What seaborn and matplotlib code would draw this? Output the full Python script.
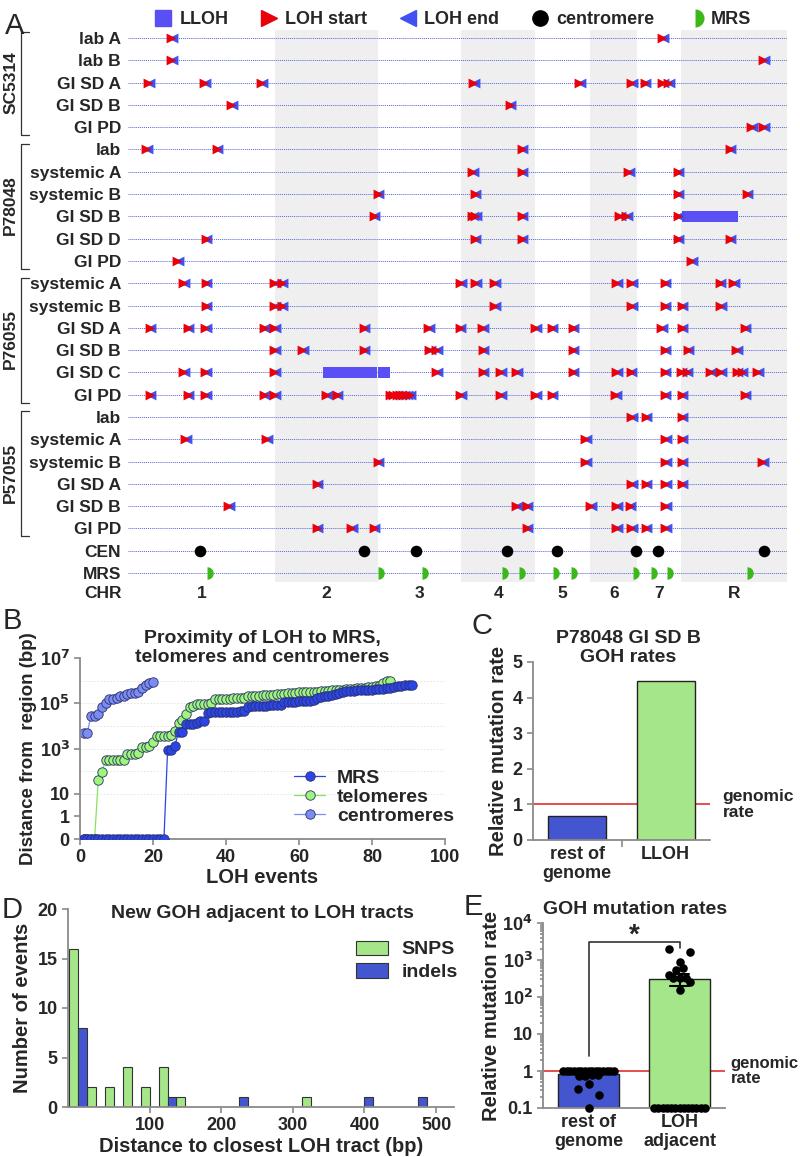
import numpy as np
import pandas as pd
import seaborn as sns
import matplotlib.pyplot as plt
from matplotlib.lines import Line2D
from matplotlib.ticker import LogLocator, NullFormatter

# ---------------- data ----------------
# chromosome sizes (Mb)
chr_names = ['1', '2', '3', '4', '5', '6', '7', 'R']
chr_sizes = [3.19, 2.23, 1.80, 1.60, 1.19, 1.03, 0.95, 2.29]

row_labels = ['lab A', 'lab B', 'GI SD A', 'GI SD B', 'GI PD',
              'lab', 'systemic A', 'systemic B', 'GI SD B', 'GI SD D', 'GI PD',
              'systemic A', 'systemic B', 'GI SD A', 'GI SD B', 'GI SD C', 'GI PD',
              'lab', 'systemic A', 'systemic B', 'GI SD A', 'GI SD B', 'GI PD',
              'CEN', 'MRS']
groups = [('SC5314', 0, 4), ('P78048', 5, 10), ('P76055', 11, 16), ('P57055', 17, 22)]

# LOH event positions (Mb along concatenated genome), one list per isolate row
loh_events = [
    [0.93, 11.58],
    [0.93, 13.76],
    [0.44, 1.65, 2.88, 7.48, 9.78, 10.91, 11.20, 11.58, 11.70],
    [2.23, 8.27],
    [13.51, 13.76],
    [0.40, 1.92, 8.53, 13.04],
    [7.46, 8.53, 10.84, 11.91],
    [5.41, 7.51, 11.91, 13.41],
    [5.32, 7.46, 7.53, 8.53, 10.64, 10.80, 11.91],
    [1.68, 7.51, 8.53, 11.91, 13.04],
    [1.06, 12.20],
    [1.20, 1.68, 3.17, 3.33, 7.20, 7.53, 7.93, 10.58, 10.91, 11.63, 12.82, 13.11],
    [1.68, 3.17, 3.33, 7.93, 10.91, 11.63, 12.00, 12.83],
    [0.47, 1.29, 1.67, 2.94, 3.17, 5.11, 6.51, 7.19, 7.67, 8.82, 9.18, 9.64, 11.56, 12.00, 13.36],
    [3.17, 3.77, 5.11, 6.53, 6.68, 7.69, 9.64, 11.63, 12.13, 13.18],
    [1.20, 1.67, 3.17, 6.68, 7.69, 8.07, 8.41, 9.64, 10.58, 10.89, 11.63, 11.98, 12.11, 12.61,
     12.83, 13.19, 13.30, 13.64],
    [0.47, 1.29, 1.67, 2.94, 3.17, 4.29, 4.52, 5.68, 5.75, 5.82, 5.89, 5.96, 6.03, 6.10, 7.20,
     8.07, 8.82, 9.18, 10.56, 11.63, 12.00, 13.36],
    [10.91, 11.22, 12.00],
    [1.24, 3.00, 9.91, 11.64, 12.00],
    [5.41, 9.91, 11.64, 12.00, 13.74],
    [4.09, 10.91, 11.22, 11.64, 12.00],
    [2.17, 8.41, 8.64, 10.02, 10.58, 10.87, 11.64],
    [4.09, 4.84, 5.32, 8.64, 10.58, 10.91, 11.22, 11.64],
]
# long LOH tracts: (row, start, end)
lloh_row = [8, 15, 15]
lloh_start = [12.00, 4.22, 5.41]
lloh_end = [13.22, 5.39, 5.67]
cen_pos = [1.56, 5.11, 6.24, 8.22, 9.30, 11.00, 11.48, 13.78]
mrs_pos = [1.72, 5.41, 6.36, 8.11, 8.47, 9.22, 9.59, 10.94, 11.33, 11.69, 13.41]

# panel B: sorted distances (bp) of LOH events to each region type
mrs_dist = [0] * 23 + [850, 850, 1300, 5500, 5500, 12000, 12000, 12500, 13000, 16000, 16000,
                       36000, 40000, 40000, 41000, 41000, 42000, 42000, 43000, 43000, 44000, 45000,
                       70000, 72000, 72000, 75000, 76000, 78000, 80000, 82000, 85000, 88000,
                       110000, 115000, 115000, 118000, 120000, 120000, 122000, 125000, 140000, 170000,
                       190000, 200000, 220000, 240000, 260000, 290000, 320000, 340000, 350000, 360000,
                       370000, 380000, 390000, 400000, 400000, 410000, 420000, 430000, 450000, 480000,
                       520000, 560000, 600000, 620000, 650000, 660000]
telomere_dist = [0, 0, 0, 0, 40, 90, 300, 300, 300, 300, 300, 310, 600, 600, 600, 620,
                 1200, 1200, 1300, 2000, 3400, 3500, 3500, 3600, 3800, 6000, 13000, 18000, 33000,
                 70000, 72000, 90000, 92000, 95000, 95000, 98000,
                 150000, 155000, 158000, 160000, 162000, 165000, 168000, 170000, 172000,
                 200000, 210000, 215000, 220000, 225000, 230000, 235000, 240000, 245000, 250000,
                 260000, 270000, 280000, 290000, 300000, 305000, 310000, 320000, 325000, 330000,
                 340000, 350000, 360000, 370000, 380000, 390000, 400000, 410000, 420000, 430000,
                 450000, 470000, 490000, 510000, 530000, 560000, 600000, 750000, 950000, 1000000]
centromere_dist = [5000, 5000, 28000, 28000, 32000, 65000, 100000, 150000, 160000, 170000,
                   200000, 220000, 250000, 270000, 290000, 330000, 450000, 650000, 800000, 850000]

# panel C
c_groups = ['rest of\ngenome', 'LLOH']
c_rates = [0.68, 4.47]

# panel D: histogram bins (bp) and counts
snp_bins = [0, 25, 50, 75, 100, 125, 150, 325]
snp_counts = [16, 2, 2, 4, 2, 4, 1, 1]
indel_bins = [0, 125, 225, 400, 475]
indel_counts = [8, 1, 1, 1, 1]

# panel E: per-sample relative mutation rates
e_groups = ['rest of\ngenome', 'LOH\nadjacent']
rest_rates = [1.0] * 15 + [0.8, 0.8, 0.75, 0.75, 0.45, 0.33, 0.22, 0.1]
loh_adj_rates = [0] * 13 + [2000, 1600, 900, 600, 550, 400, 330, 330, 320, 260, 150]

# ---------------- style ----------------
sns.set_theme(style='white')
plt.rcParams['font.family'] = ['Liberation Sans', 'DejaVu Sans']
plt.rcParams['font.weight'] = 'bold'
plt.rcParams['axes.labelweight'] = 'bold'
plt.rcParams['axes.titleweight'] = 'bold'

RED = '#e8000b'
BLUE = '#3f51f0'
LLOH_C = '#5a4ff5'
GREEN = '#9df57a'
DKBLUE = '#2c45e6'
GRAY = '#8a8a8a'
LAB = 14.5
TIT = 14

W, H = 800, 1157
fig = plt.figure(figsize=(W / 100, H / 100), dpi=100)


def rect(l, t, r, b):
    return [l / W, 1 - b / H, (r - l) / W, (b - t) / H]


def style_axis(ax):
    sns.despine(ax=ax)
    for s in ['left', 'bottom']:
        ax.spines[s].set_color(GRAY)
        ax.spines[s].set_linewidth(1.3)
    ax.tick_params(axis='both', which='both', color=GRAY, width=1.2, labelsize=13,
                   direction='out', left=True, bottom=True)
    ax.tick_params(which='major', length=4)
    ax.tick_params(which='minor', length=2)


# ---------------- panel A ----------------
axA = fig.add_axes(rect(128, 30, 787, 582))
genome = sum(chr_sizes)
starts = np.concatenate([[0], np.cumsum(chr_sizes)[:-1]])
axA.set_xlim(0, genome)
axA.set_ylim(24.4, -0.36)
for i, (s, size) in enumerate(zip(starts, chr_sizes)):
    if i % 2 == 1:
        axA.axvspan(s, s + size, color='#efefef', zorder=0, lw=0)
nrows = len(row_labels)
axA.hlines(range(nrows), 0, genome, colors='#5566d8', linestyles=(0, (1, 1)), lw=0.7, zorder=1)

ev = pd.DataFrame([(r, p) for r, lst in enumerate(loh_events) for p in lst], columns=['row', 'pos'])
for r, a, b in zip(lloh_row, lloh_start, lloh_end):
    axA.barh(r, b - a, left=a, height=0.52, color=LLOH_C, lw=0, zorder=2)
sns.scatterplot(x=ev['pos'] + 0.035, y=ev['row'], marker='<', color=BLUE, s=50, linewidth=0,
                ax=axA, zorder=3)
sns.scatterplot(data=ev, x='pos', y='row', marker='>', color=RED, s=50, linewidth=0, ax=axA, zorder=4)
sns.scatterplot(x=cen_pos, y=[23] * len(cen_pos), color='black', s=70, linewidth=0, ax=axA, zorder=4)
axA.plot(mrs_pos, [24] * len(mrs_pos), ls='none', marker='o', ms=9, fillstyle='right',
         markerfacecolor='#3cb81c', markerfacecoloralt='none', markeredgewidth=0, zorder=4)

axA.set_xlabel('')
axA.set_ylabel('')
axA.set_xticks([])
axA.set_yticks(range(nrows))
axA.set_yticklabels(row_labels, fontsize=12.5, fontweight='bold')
axA.tick_params(axis='y', length=0, pad=5)
for s in axA.spines.values():
    s.set_visible(False)

ytr = axA.get_yaxis_transform()
axA.text(-0.009, 24.92, 'CHR', transform=ytr, ha='right', va='center', fontsize=12.5)
for name, s, size in zip(chr_names, starts, chr_sizes):
    axA.text(s + size / 2, 24.92, name, ha='center', va='center', fontsize=12.5)
for name, a, b in groups:
    axA.plot([-0.150, -0.163, -0.163, -0.150], [a - 0.25, a - 0.25, b + 0.35, b + 0.35],
             transform=ytr, clip_on=False, color='#333333', lw=0.9)
    axA.text(-0.178, (a + b) / 2, name, transform=ytr, rotation=90, ha='center', va='center',
             fontsize=12.5)

legA = [Line2D([], [], ls='none', marker='s', ms=11, color=LLOH_C),
        Line2D([], [], ls='none', marker='>', ms=12, color=RED),
        Line2D([], [], ls='none', marker='<', ms=12, color=BLUE),
        Line2D([], [], ls='none', marker='o', ms=11, color='black'),
        Line2D([], [], ls='none', marker='o', ms=13, fillstyle='right', markerfacecolor='#3cb81c',
               markerfacecoloralt='none', markeredgewidth=0)]
fig.legend(legA, ['LLOH', 'LOH start', 'LOH end', 'centromere', 'MRS'], loc='center left',
           bbox_to_anchor=(154 / W, 1 - 20 / H), ncol=5, frameon=False, fontsize=13,
           handlelength=1.0, handletextpad=0.4, columnspacing=1.75, borderpad=0, borderaxespad=0)

# ---------------- panel B ----------------
axB = fig.add_axes(rect(80, 658, 445, 839))
seriesB = [('MRS', mrs_dist, DKBLUE, DKBLUE, 4),
           ('telomeres', telomere_dist, GREEN, '#86e45c', 3),
           ('centromeres', centromere_dist, '#7d8cf2', '#7d8cf2', 2)]
for name, vals, face, line, z in seriesB:
    y = np.array(vals, dtype=float)
    y[y == 0] = 0.1
    sns.lineplot(x=np.arange(1, len(y) + 1), y=y, ax=axB, color=line, lw=0.9, marker='o',
                 markersize=6.8, markerfacecolor=face, markeredgecolor='#2a2f6a',
                 markeredgewidth=0.6, label=name, zorder=z)
axB.set_yscale('log')
axB.set_ylim(0.1, 1e7)
axB.set_xlim(0, 100)
axB.set_yticks([0.1, 1, 10, 1e3, 1e5, 1e7])
axB.set_yticklabels(['0', '1', '10', '10$^3$', '10$^5$', '10$^7$'])
axB.yaxis.set_minor_locator(LogLocator(base=10, subs=np.arange(2, 10)))
axB.yaxis.set_minor_formatter(NullFormatter())
axB.set_xticks(range(0, 101, 20))
for d in [10, 1e2, 1e3, 1e4, 1e5, 1e6]:
    axB.axhline(d, color='#e2e2e2', lw=0.6, ls=(0, (2, 2)), zorder=0)
style_axis(axB)
axB.set_xlabel('LOH events', fontsize=LAB, labelpad=1)
axB.set_ylabel('Distance from  region (bp)', fontsize=13.5, labelpad=2)
axB.legend(loc='upper left', bbox_to_anchor=(0.56, 0.44), frameon=False, fontsize=14,
           handlelength=1.6, handletextpad=0.6, labelspacing=0.08, borderpad=0)
fig.text(262 / W, 1 - 648 / H, 'Proximity of LOH to MRS,\ntelomeres and centromeres',
         ha='center', va='center', fontsize=TIT, linespacing=1.15)

# ---------------- panel C ----------------
axC = fig.add_axes(rect(533, 662, 710, 840))
axC.axhline(1, color='#e03030', lw=1.2, zorder=0.5)
sns.barplot(x=c_groups, y=c_rates, hue=c_groups, palette=[DKBLUE, GREEN], legend=False,
            width=0.66, edgecolor='#222222', linewidth=1.0, ax=axC, zorder=2)
axC.set_xlim(-0.5, 1.5)
axC.set_ylim(0, 5)
axC.set_yticks(range(6))
style_axis(axC)
axC.tick_params(axis='x', which='major', length=0, pad=4)
axC.set_xticks([0.5], minor=True)
axC.tick_params(axis='x', which='minor', length=5)
axC.set_ylabel('Relative mutation rate', fontsize=LAB, labelpad=3)
axC.text(1.07, 1, 'genomic\nrate', transform=axC.get_yaxis_transform(), ha='left', va='center',
         fontsize=12.5, linespacing=1.05)
fig.text(628 / W, 1 - 648 / H, 'P78048 GI SD B\nGOH rates', ha='center', va='center',
         fontsize=TIT, linespacing=1.15)

# ---------------- panel D ----------------
axD = fig.add_axes(rect(68, 909, 454, 1107))
dfD = pd.concat([pd.DataFrame({'bin': snp_bins, 'count': snp_counts, 'type': 'SNPS'}),
                 pd.DataFrame({'bin': indel_bins, 'count': indel_counts, 'type': 'indels'})])
sns.barplot(data=dfD, x='bin', y='count', hue='type', native_scale=True, width=1.0, gap=0,
            palette={'SNPS': GREEN, 'indels': DKBLUE}, edgecolor='#333333', linewidth=0.8, ax=axD)
axD.set_xlim(-14, 525)
axD.set_ylim(0, 20)
axD.set_yticks(range(0, 21, 5))
axD.set_xticks(range(100, 501, 100))
style_axis(axD)
axD.set_xlabel('Distance to closest LOH tract (bp)', fontsize=LAB, labelpad=2)
axD.set_ylabel('Number of events', fontsize=LAB, labelpad=4)
axD.legend(loc='upper left', bbox_to_anchor=(0.722, 0.89), frameon=False, fontsize=14,
           handlelength=1.6, handleheight=0.75, handletextpad=0.7, labelspacing=0.25, borderpad=0)
fig.text(262 / W, 1 - 914 / H, 'New GOH adjacent to LOH tracts', ha='center', va='center',
         fontsize=TIT)

# ---------------- panel E ----------------
axE = fig.add_axes(rect(543, 923, 725, 1108))
dfE = pd.DataFrame({'group': [e_groups[0]] * len(rest_rates) + [e_groups[1]] * len(loh_adj_rates),
                    'rate': rest_rates + loh_adj_rates})
axE.axhline(1, color='#e03030', lw=1.2, zorder=0.5)
sns.barplot(data=dfE, x='group', y='rate', hue='group', order=e_groups, palette=[DKBLUE, GREEN],
            legend=False, errorbar='se', capsize=0.2, err_kws={'color': 'black', 'linewidth': 1.5},
            width=0.66, edgecolor='#222222', linewidth=1.0, ax=axE, zorder=2)
axE.set_yscale('log')
axE.set_ylim(0.1, 1e4)
axE.set_xlim(-0.5, 1.5)


def spread(vals, half=0.28, tol=0.06, step=0.07):
    v = np.log10(vals)
    order = np.argsort(v)
    offs = np.zeros(len(v))
    grps, cur = [], [order[0]]
    for i in order[1:]:
        if v[i] - v[cur[-1]] <= tol:
            cur.append(i)
        else:
            grps.append(cur)
            cur = [i]
    grps.append(cur)
    cycle = [0, 0.11, -0.11]
    k = 0
    for g in grps:
        if len(g) == 1:
            offs[g[0]] = cycle[k % 3]
            k += 1
        else:
            w = min(half, step * (len(g) - 1) / 2)
            offs[g] = np.linspace(-w, w, len(g))
    return offs


for i, vals in enumerate([rest_rates, loh_adj_rates]):
    disp = np.maximum(np.array(vals, dtype=float), 0.1)
    sns.scatterplot(x=i + spread(disp), y=disp, color='black', s=38, linewidth=0, ax=axE,
                    zorder=5, clip_on=False)

axE.set_yticks([0.1, 1, 10, 100, 1000, 1e4])
axE.set_yticklabels(['0.1', '1', '10', '10$^2$', '10$^3$', '10$^4$'])
axE.yaxis.set_minor_locator(LogLocator(base=10, subs=np.arange(2, 10)))
axE.yaxis.set_minor_formatter(NullFormatter())
axE.set_xticks([0, 1])
axE.set_xticklabels(e_groups)
style_axis(axE)
axE.tick_params(axis='x', which='both', length=0, pad=4)
axE.set_xlabel('')
axE.set_ylabel('Relative mutation rate', fontsize=LAB, labelpad=1)
axE.plot([0, 0, 1, 1], [2.6, 3000, 3000, 2100], color='#333333', lw=1.2, zorder=6)
axE.text(0.5, 4700, '*', ha='center', va='center', fontsize=20)
axE.text(1.03, 1, 'genomic\nrate', transform=axE.get_yaxis_transform(), ha='left', va='center',
         fontsize=12, linespacing=1.05)
fig.text(635 / W, 1 - 910 / H, 'GOH mutation rates', ha='center', va='center', fontsize=TIT)

# panel letters
for letter, x, y in [('A', 15, 26), ('B', 12, 621), ('C', 482, 626), ('D', 12, 910), ('E', 473, 907)]:
    fig.text(x / W, 1 - y / H, letter, ha='center', va='center', fontsize=21, fontweight='normal')

fig.savefig('out.png', dpi=100)
